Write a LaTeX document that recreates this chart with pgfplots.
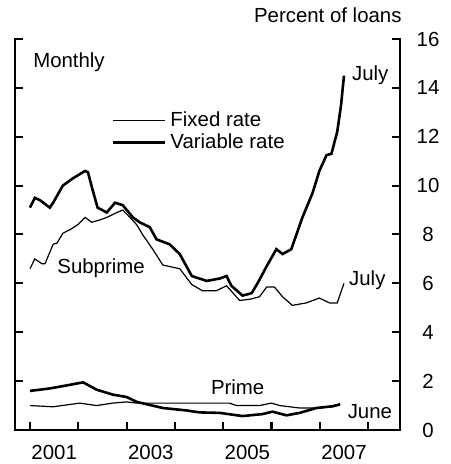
\documentclass[border=0pt]{standalone}
\usepackage{fontspec}
\setmainfont{Liberation Sans}
\usepackage{pgfplots}
\pgfplotsset{compat=1.18}

% subprime, fixed rate (thin)
\pgfplotstableread{
t v
2001.00 6.6
2001.10 7.0
2001.25 6.8
2001.31 6.8
2001.48 7.6
2001.56 7.65
2001.68 8.05
2001.83 8.2
2001.99 8.4
2002.14 8.7
2002.28 8.5
2002.45 8.6
2002.59 8.7
2002.80 8.9
2002.92 9.0
2003.07 8.7
2003.21 8.4
2003.33 8.0
2003.54 7.4
2003.75 6.75
2004.10 6.6
2004.35 5.95
2004.57 5.7
2004.86 5.7
2005.07 5.9
2005.34 5.3
2005.55 5.35
2005.75 5.45
2005.90 5.85
2006.06 5.85
2006.23 5.45
2006.43 5.1
2006.72 5.2
2006.99 5.4
2007.20 5.2
2007.36 5.2
2007.50 6.0
}\subfixed

% subprime, variable rate (thick)
\pgfplotstableread{
t v
2001.00 9.1
2001.10 9.5
2001.21 9.4
2001.41 9.1
2001.48 9.3
2001.68 10.0
2001.89 10.3
2002.14 10.6
2002.20 10.55
2002.30 9.8
2002.40 9.1
2002.59 8.9
2002.76 9.3
2002.92 9.2
2003.13 8.7
2003.27 8.5
2003.48 8.3
2003.62 7.8
2003.89 7.6
2004.10 7.2
2004.35 6.3
2004.66 6.1
2004.93 6.2
2005.07 6.3
2005.17 5.9
2005.40 5.5
2005.59 5.6
2005.71 6.0
2005.90 6.7
2006.10 7.4
2006.23 7.2
2006.41 7.4
2006.64 8.7
2006.85 9.7
2006.99 10.6
2007.14 11.25
2007.24 11.3
2007.36 12.2
2007.44 13.3
2007.50 14.5
}\subvar

% prime, fixed rate (thin)
\pgfplotstableread{
t v
2001.00 1.0
2001.48 0.95
2002.03 1.1
2002.38 1.0
2002.71 1.1
2003.00 1.15
2003.21 1.1
2003.69 1.1
2004.72 1.1
2005.13 1.1
2005.28 1.0
2005.75 1.0
2006.00 1.1
2006.17 1.0
2006.58 0.9
2006.93 0.9
2007.26 0.95
2007.42 1.05
}\primefixed

% prime, variable rate (thick)
\pgfplotstableread{
t v
2001.00 1.6
2001.41 1.7
2001.83 1.85
2002.10 1.95
2002.38 1.65
2002.71 1.45
2003.00 1.35
2003.21 1.15
2003.75 0.9
2004.24 0.8
2004.51 0.72
2004.93 0.7
2005.40 0.57
2005.81 0.65
2006.02 0.75
2006.31 0.6
2006.58 0.7
2006.93 0.9
2007.26 0.97
2007.42 1.05
}\primevar

\begin{document}
\begin{tikzpicture}[font=\fontsize{10.2}{12}\selectfont]
\useasboundingbox (-7.5pt,-17pt) rectangle (217.5pt,215pt);
\begin{axis}[
  scale only axis,
  width=192.5pt, height=195.5pt,
  xmin=2000.69, xmax=2008.66,
  ymin=0, ymax=16,
  clip=false,
  separate axis lines,
  axis line style={draw=none},
  xtick pos=left,
  ytick pos=both,
  yticklabel pos=right,
  tick align=inside,
  major tick length=4pt,
  tick style={line width=1pt, black},
  xtick={2001,...,2008},
  xticklabels={2001,,2003,,2005,,2007,},
  xticklabel style={xshift=12.1pt, yshift=-4pt},
  ytick={0,2,...,16},
  yticklabels={0,2,4,6,8,10,12,14,16},
  yticklabel style={text width=14pt, align=center, xshift=3.5pt},
  legend style={at={(rel axis cs:0.235,0.835)}, anchor=north west,
    draw=none, fill=none, row sep=-2pt},
  legend cell align=left,
  legend image code/.code={\draw[#1] (0pt,0pt) -- (26pt,0pt);},
]
\addplot[black, line width=0.6pt] table[x=t, y=v] {\subfixed};
\addlegendentry{Fixed rate}
\addplot[black, line width=1.3pt] table[x=t, y=v] {\subvar};
\addlegendentry{Variable rate}
\addplot[black, line width=0.6pt, forget plot] table[x=t, y=v] {\primefixed};
\addplot[black, line width=1.3pt, forget plot] table[x=t, y=v] {\primevar};

% open frame: left, bottom and right sides only
\draw[line width=1.2pt, line cap=rect] (rel axis cs:0,1) -- (rel axis cs:0,0)
  -- (rel axis cs:1,0) -- (rel axis cs:1,1);
% inward tick marks
\pgfplotsinvokeforeach{2,4,...,16}{
  \draw[line width=1pt] (axis cs:2000.69,#1) -- (axis cs:2000.86,#1);
  \draw[line width=1pt] (axis cs:2008.66,#1) -- (axis cs:2008.51,#1);
}
\pgfplotsinvokeforeach{2001,...,2008}{
  \draw[line width=1pt] (axis cs:#1,0) -- (axis cs:#1,0.33);
}

\node[anchor=west, inner sep=0pt] at (axis cs:2001.06,15.06) {Monthly};
\node[anchor=west, inner sep=0pt] at (axis cs:2001.56,6.63) {Subprime};
\node[anchor=west, inner sep=0pt] at (axis cs:2007.66,14.5) {July};
\node[anchor=west, inner sep=0pt] at (axis cs:2007.60,6.14) {July};
\node[inner sep=0pt] at (axis cs:2005.30,1.76) {Prime};
\node[anchor=west, inner sep=0pt] at (axis cs:2007.57,0.74) {June};
\node[anchor=east, inner sep=0pt] at (rel axis cs:1.005,1.061) {Percent of loans};
\end{axis}
\end{tikzpicture}
\end{document}
